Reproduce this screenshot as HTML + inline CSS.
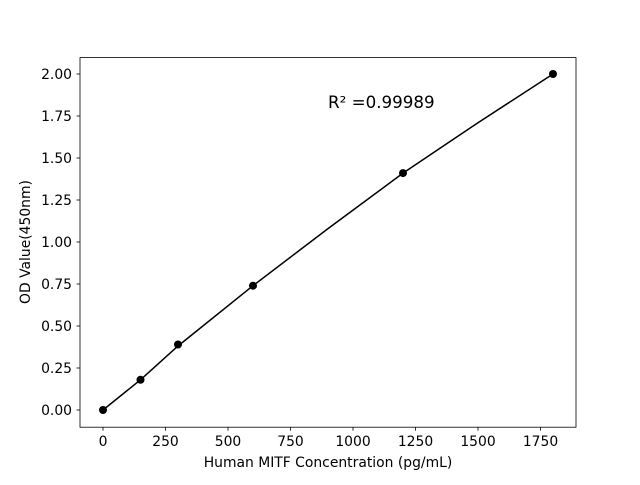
<!DOCTYPE html>
<html><head><style>body{margin:0;background:#fff}</style></head><body>
<svg width="640" height="480" xmlns="http://www.w3.org/2000/svg" font-family="DejaVu Sans, Liberation Sans, sans-serif">
<rect width="640" height="480" fill="#fff"/>
<rect x="80" y="57.6" width="496" height="369.6" fill="none" stroke="#000" stroke-width="0.8"/>
<g stroke="#000" stroke-width="0.8">
<line x1="103" y1="427.2" x2="103" y2="430.7"/><line x1="165.5" y1="427.2" x2="165.5" y2="430.7"/><line x1="228" y1="427.2" x2="228" y2="430.7"/><line x1="290.5" y1="427.2" x2="290.5" y2="430.7"/><line x1="353" y1="427.2" x2="353" y2="430.7"/><line x1="415.5" y1="427.2" x2="415.5" y2="430.7"/><line x1="478" y1="427.2" x2="478" y2="430.7"/><line x1="540.5" y1="427.2" x2="540.5" y2="430.7"/>
<line x1="80" y1="410" x2="76.5" y2="410"/><line x1="80" y1="368" x2="76.5" y2="368"/><line x1="80" y1="326" x2="76.5" y2="326"/><line x1="80" y1="284" x2="76.5" y2="284"/><line x1="80" y1="242" x2="76.5" y2="242"/><line x1="80" y1="200" x2="76.5" y2="200"/><line x1="80" y1="158" x2="76.5" y2="158"/><line x1="80" y1="116" x2="76.5" y2="116"/><line x1="80" y1="74" x2="76.5" y2="74"/>
</g>
<g font-size="13.9" text-anchor="middle">
<text x="103" y="446">0</text><text x="165.5" y="446">250</text><text x="228" y="446">500</text><text x="290.5" y="446">750</text><text x="353" y="446">1000</text><text x="415.5" y="446">1250</text><text x="478" y="446">1500</text><text x="540.5" y="446">1750</text>
</g>
<g font-size="13.9" text-anchor="end">
<text x="72" y="415">0.00</text><text x="72" y="373">0.25</text><text x="72" y="331">0.50</text><text x="72" y="289">0.75</text><text x="72" y="247">1.00</text><text x="72" y="205">1.25</text><text x="72" y="163">1.50</text><text x="72" y="121">1.75</text><text x="72" y="79">2.00</text>
</g>
<text x="328" y="467" font-size="13.9" text-anchor="middle">Human MITF Concentration (pg/mL)</text>
<text transform="translate(30,242) rotate(-90)" font-size="13.9" text-anchor="middle">OD Value(450nm)</text>
<text x="328" y="108" font-size="16.7">R² =0.99989</text>
<polyline fill="none" stroke="#000" stroke-width="1.5" points="103,410 140.5,379.8 178,346 253,285.7 328,228.6 403,173.1 478,122.7 553,74"/>
<g fill="#000">
<circle cx="103" cy="410" r="4"/><circle cx="140.5" cy="379.8" r="4"/><circle cx="178" cy="344.5" r="4"/><circle cx="253" cy="285.7" r="4"/><circle cx="403" cy="173.1" r="4"/><circle cx="553" cy="74" r="4"/>
</g>
</svg>
</body></html>
